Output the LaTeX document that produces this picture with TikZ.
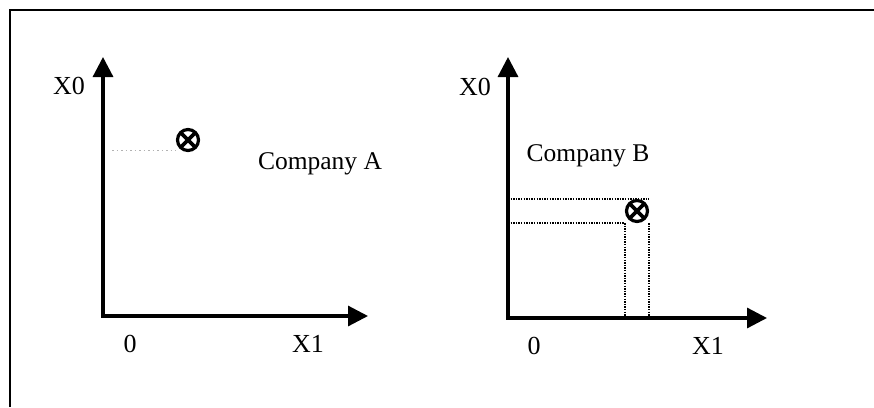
\documentclass[tikz,border=0pt]{standalone}
\usepackage{fontspec}
\setmainfont{Liberation Serif}
\usetikzlibrary{arrows.meta}
\begin{document}
\begin{tikzpicture}[x=1pt,y=-1pt,
  axis/.style={line width=3.2pt,{Triangle[length=20pt,width=20pt]}-{Triangle[length=20pt,width=20pt]}},
  frame/.style={line width=2.6pt},
  guide/.style={line width=1.6pt,dash pattern=on 1.4pt off 1.2pt},
  faint/.style={line width=1pt,gray!60,dash pattern=on 1.5pt off 3pt},
  crossmark/.style={circle,draw,line width=3.2pt,minimum size=21pt,inner sep=0pt,
    path picture={\draw[line width=3.6pt]
      (path picture bounding box.south west) -- (path picture bounding box.north east)
      (path picture bounding box.north west) -- (path picture bounding box.south east);}},
  lab/.style={font=\fontsize{26}{28}\selectfont,inner sep=0pt},
  comp/.style={font=\fontsize{25.5}{27}\selectfont,inner sep=0pt}]
\useasboundingbox (0,0) rectangle (874,407);
\coordinate (fb) at (10,407);
\coordinate (ftl) at (10,10);
\coordinate (ftr) at (874,10);
\draw[frame] (fb) -- (ftl) -- (ftr);
% left chart
\coordinate (oA) at (103,316);
\coordinate (yA) at (103,57);
\coordinate (xA) at (368,316);
\draw[axis] (yA) -- (oA) -- (xA);
\node[lab] (xzA) at (69,86) {X0};
\node[lab] (zA) at (130,344) {0};
\node[lab] (xoA) at (308,344) {X1};
\node[crossmark] (mA) at (188,140) {};
\coordinate (gA) at (112,150);
\draw[faint] (gA) -- (gA -| mA.west);
\node[comp] (cA) at (320,164) {Company A};
% right chart
\coordinate (oB) at (508,318);
\coordinate (yB) at (508,57);
\coordinate (xB) at (767,318);
\draw[axis] (yB) -- (oB) -- (xB);
\node[lab] (xzB) at (475,87) {X0};
\node[lab] (zB) at (534,346) {0};
\node[lab] (xoB) at (708,346) {X1};
\node[crossmark] (mB) at (637,211) {};
\draw[guide] (oB |- mB.north) -- (mB.east |- mB.north);
\draw[guide] (oB |- mB.south) -- (mB.west |- mB.south);
\draw[guide] (mB.west |- mB.south) -- (mB.west |- oB);
\draw[guide] (mB.east |- mB.south) -- (mB.east |- oB);
\node[comp] (cB) at (588,156) {Company B};
\end{tikzpicture}
\end{document}
